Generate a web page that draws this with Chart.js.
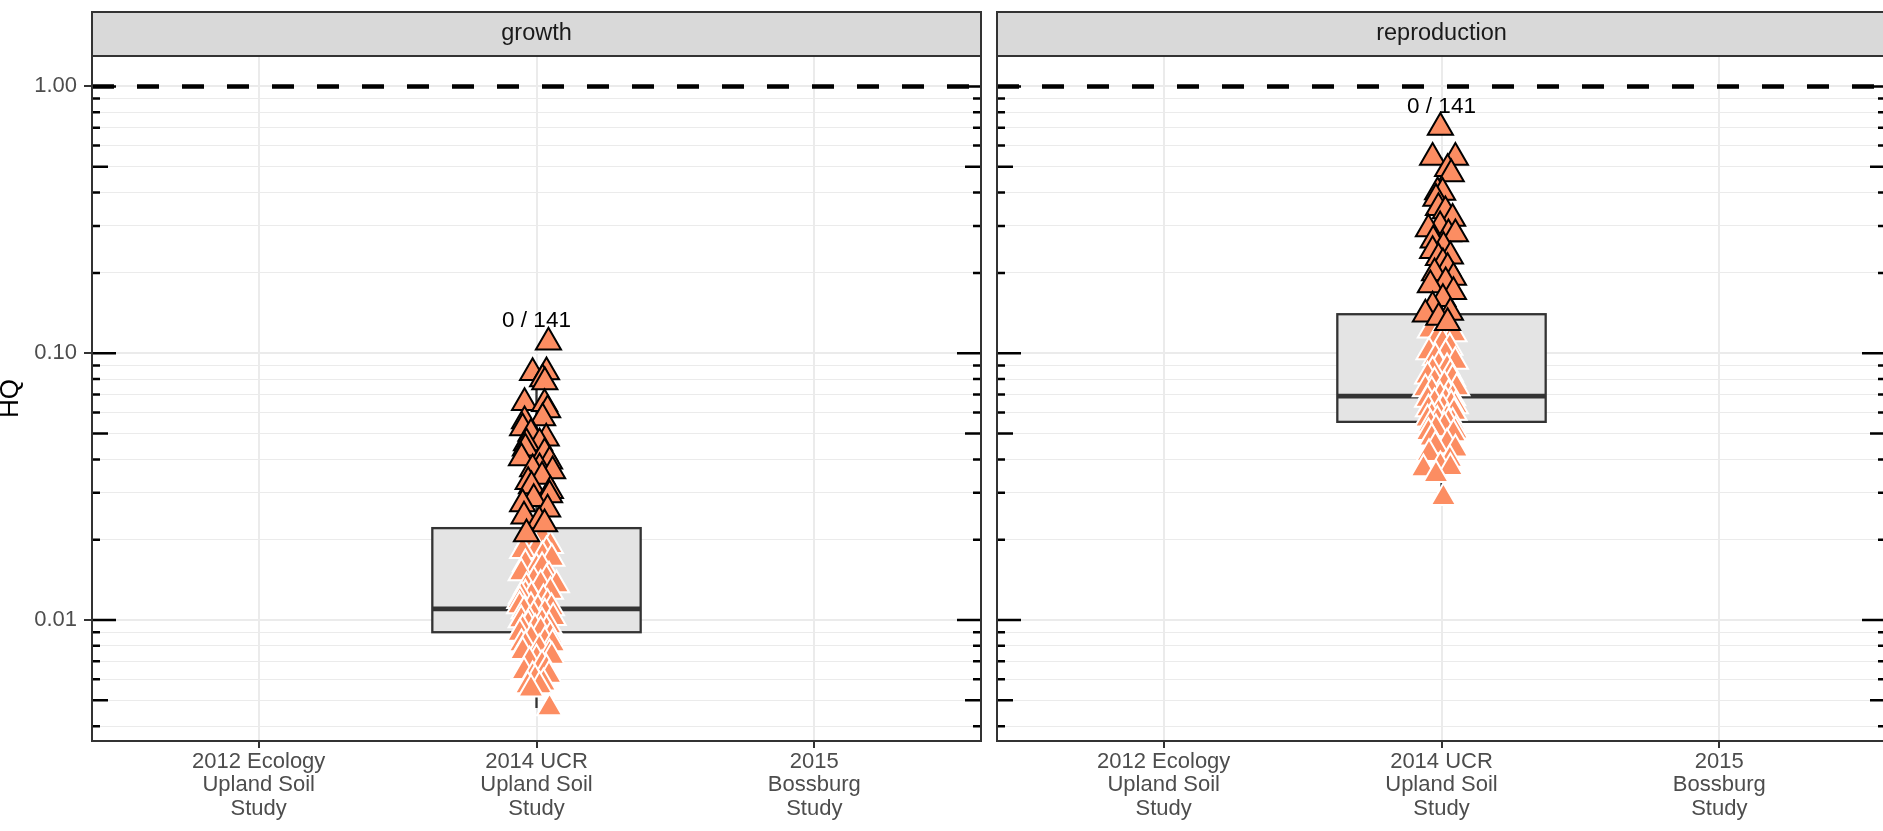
<!DOCTYPE html>
<html>
<head>
<meta charset="utf-8">
<title>HQ by study</title>
<script src="https://cdn.jsdelivr.net/npm/chart.js@4.4.0/dist/chart.umd.min.js"></script>
<style>
  html, body { margin: 0; padding: 0; background: #ffffff; overflow: hidden; }
  #wrap { position: relative; width: 1883px; height: 831px; overflow: hidden; }
  canvas { position: absolute; top: 0; }
  #growthChart { left: 0; }
  #reproChart { left: 990px; }
</style>
</head>
<body>
<div id="wrap">
  <canvas id="growthChart" width="990" height="831"></canvas>
  <canvas id="reproChart" width="900" height="831"></canvas>
</div>
<script>
// x categories (multi-line tick labels) and y axis breaks
const categories = [
  ["2012 Ecology", "Upland Soil", "Study"],
  ["2014 UCR", "Upland Soil", "Study"],
  ["2015", "Bossburg", "Study"],
];
const yMajorTicks = [0.01, 0.1, 1];
const yLogTicks = [
  0.004, 0.005, 0.006, 0.007, 0.008, 0.009,
  0.01, 0.02, 0.03, 0.04, 0.05, 0.06, 0.07, 0.08, 0.09,
  0.1, 0.2, 0.3, 0.4, 0.5, 0.6, 0.7, 0.8, 0.9,
  1,
];
const yMin = 0.00352;
const yMax = 1.3;
const hqThreshold = 1;

// growth panel: box stats [lower whisker, q1, median, q3, upper whisker]
const growthBoxStats = [0.00468, 0.0090, 0.0110, 0.0221, 0.0844];
const growthExceed = "0 / 141";
// points drawn with black outline (high end)
const growthUpperHQ = [
  0.110, 0.0844, 0.0851, 0.0801, 0.078, 0.0652, 0.0646, 0.0613, 0.0572, 0.0557,
  0.0524, 0.050, 0.048, 0.0461, 0.0461, 0.044, 0.0423, 0.0405, 0.0394, 0.0371,
  0.0368, 0.0362, 0.0345, 0.033, 0.0318, 0.0305, 0.0294, 0.0285, 0.0272, 0.026,
  0.0245, 0.0235, 0.0229, 0.0210,
];
const growthUpperJitter = [
  0.043, -0.014, 0.036, 0.022, 0.03, -0.043, 0.029, 0.040, 0.022, -0.043,
  -0.050, -0.02, 0.035, 0.011, -0.036, -0.04, 0.029, -0.054, 0.047, 0.011,
  -0.014, 0.058, 0.02, -0.03, -0.018, 0.05, 0.047, -0.01, -0.050, 0.04,
  -0.045, 0.01, 0.029, -0.036,
];
// points drawn with white outline
const growthLowerHQ = [
  0.0205, 0.0198, 0.0190, 0.01845, 0.0182, 0.01815, 0.01738, 0.0170, 0.0162, 0.01567,
  0.0158, 0.0150, 0.0146, 0.01425, 0.0140, 0.0136, 0.01353, 0.0133, 0.0128, 0.0125,
  0.01231, 0.01231, 0.0120, 0.0118, 0.0115, 0.01128, 0.0112, 0.01109, 0.0110, 0.0108,
  0.0106, 0.0104, 0.0102, 0.0100, 0.00991, 0.0098, 0.0096, 0.0095, 0.0093, 0.00925,
  0.00918, 0.0091, 0.0089, 0.0087, 0.0085, 0.0083, 0.00813, 0.00813, 0.0080, 0.0078,
  0.0076, 0.00746, 0.0073, 0.00714, 0.0070, 0.0068, 0.00655, 0.0064, 0.0062, 0.00617,
  0.0060, 0.0058, 0.00566, 0.00566, 0.0055, 0.00468,
];
const growthLowerJitter = [
  0.02, -0.03, 0.05, 0.000, -0.05, 0.036, 0.022, 0.055, -0.04, 0.000,
  0.02, -0.055, 0.045, 0.036, -0.01, 0.015, 0.072, -0.036, 0.05, -0.04,
  -0.018, -0.054, 0.025, -0.06, 0.04, -0.061, -0.02, 0.054, 0.005, -0.045,
  0.03, -0.01, 0.06, -0.055, -0.025, 0.02, -0.03, 0.045, -0.005, -0.050,
  0.036, 0.015, -0.06, 0.05, -0.02, 0.03, -0.054, 0.058, -0.04, 0.01,
  -0.05, 0.047, 0.055, 0.000, -0.025, 0.02, 0.036, -0.045, 0.045, -0.014,
  -0.005, 0.025, -0.032, 0.011, -0.02, 0.047,
];

// reproduction panel
const reproBoxStats = [0.0287, 0.0553, 0.0691, 0.140, 0.541];
const reproExceed = "0 / 141";
const reproUpperHQ = [
  0.701, 0.541, 0.541, 0.491, 0.470, 0.402, 0.400, 0.380, 0.351, 0.341,
  0.320, 0.300, 0.292, 0.280, 0.280, 0.265, 0.251, 0.242, 0.231, 0.228,
  0.218, 0.209, 0.200, 0.192, 0.185, 0.180, 0.170, 0.160, 0.150, 0.142,
  0.140, 0.136, 0.130,
];
const reproUpperJitter = [
  -0.004, -0.032, 0.050, 0.022, 0.035, -0.014, 0.004, -0.02, -0.011, 0.014,
  0.04, -0.005, -0.047, 0.025, 0.050, -0.03, 0.007, -0.032, 0.032, -0.011,
  0.005, 0.022, -0.025, 0.043, 0.015, -0.040, 0.043, 0.005, -0.032, 0.032,
  -0.058, -0.01, 0.022,
];
const reproLowerHQ = [
  0.1265, 0.122, 0.118, 0.114, 0.1094, 0.105, 0.101, 0.099, 0.0962, 0.093,
  0.090, 0.088, 0.0858, 0.0836, 0.082, 0.080, 0.078, 0.076, 0.074, 0.0734,
  0.072, 0.070, 0.069, 0.068, 0.067, 0.066, 0.065, 0.0634, 0.064, 0.062,
  0.0618, 0.060, 0.0598, 0.058, 0.057, 0.0566, 0.056, 0.055, 0.0549, 0.054,
  0.053, 0.052, 0.051, 0.0503, 0.0498, 0.048, 0.046, 0.0449, 0.0437, 0.042,
  0.040, 0.0378, 0.0372, 0.0368, 0.035, 0.0287,
];
const reproLowerJitter = [
  0.014, -0.04, 0.045, -0.015, 0.004, 0.03, -0.045, 0.015, -0.022, 0.05,
  -0.01, 0.02, -0.032, 0.032, -0.05, 0.04, -0.025, 0.01, 0.055, -0.058,
  -0.035, 0.025, -0.005, 0.04, -0.05, 0.015, -0.025, 0.050, 0.035, 0.005,
  -0.047, 0.045, -0.011, -0.035, 0.02, -0.050, -0.015, 0.04, 0.025, -0.04,
  0.01, -0.02, 0.05, -0.047, 0.043, -0.035, 0.02, -0.022, 0.050, -0.045,
  0.03, -0.004, 0.032, -0.065, -0.02, 0.007,
];

Chart.defaults.font.family = '"Liberation Sans", Arial, Helvetica, sans-serif';

const xMin = 0.4;
const xMax = 3.6;
const isMajor = (v) => yMajorTicks.some((m) => Math.abs(m - v) / m < 1e-6);

// draws boxplot, log ticks, count label, panel border and facet strip
const panelDecor = {
  id: "panelDecor",
  beforeDatasetsDraw(chart, args, opts) {
    const { ctx, scales: { x, y } } = chart;
    const [lo, q1, med, q3, hi] = opts.box;
    const cx = x.getPixelForValue(opts.at);
    const left = x.getPixelForValue(opts.at - 0.375);
    const right = x.getPixelForValue(opts.at + 0.375);
    ctx.save();
    ctx.strokeStyle = "#333333";
    ctx.lineWidth = 2.3;
    ctx.beginPath();
    ctx.moveTo(cx, y.getPixelForValue(q3));
    ctx.lineTo(cx, y.getPixelForValue(hi));
    ctx.moveTo(cx, y.getPixelForValue(q1));
    ctx.lineTo(cx, y.getPixelForValue(lo));
    ctx.stroke();
    const top = y.getPixelForValue(q3);
    const bottom = y.getPixelForValue(q1);
    ctx.fillStyle = "#E4E4E4";
    ctx.fillRect(left, top, right - left, bottom - top);
    ctx.strokeRect(left, top, right - left, bottom - top);
    ctx.lineWidth = 4.7;
    ctx.beginPath();
    ctx.moveTo(left, y.getPixelForValue(med));
    ctx.lineTo(right, y.getPixelForValue(med));
    ctx.stroke();
    ctx.restore();
  },
  afterDatasetsDraw(chart, args, opts) {
    const { ctx, chartArea: a, scales: { x, y } } = chart;
    ctx.save();
    // annotation_logticks style, both sides, pointing inward
    ctx.strokeStyle = "#000000";
    ctx.lineWidth = 2.5;
    ctx.beginPath();
    yLogTicks.forEach((v) => {
      const lead = Math.round(v / Math.pow(10, Math.floor(Math.log10(v) + 1e-9)));
      const len = isMajor(v) ? 24 : lead === 5 ? 16 : 8;
      const py = y.getPixelForValue(v);
      ctx.moveTo(a.left, py);
      ctx.lineTo(a.left + len, py);
      ctx.moveTo(a.right, py);
      ctx.lineTo(a.right - len, py);
    });
    ctx.stroke();
    // exceedance count above the points
    ctx.fillStyle = "#000000";
    ctx.font = '22.5px "Liberation Sans", Arial, sans-serif';
    ctx.textAlign = "center";
    ctx.textBaseline = "middle";
    ctx.fillText(opts.label, x.getPixelForValue(opts.at), y.getPixelForValue(opts.labelAt));
    ctx.restore();
  },
  afterDraw(chart, args, opts) {
    const { ctx, chartArea: a } = chart;
    ctx.save();
    ctx.strokeStyle = "#333333";
    ctx.lineWidth = 2;
    ctx.strokeRect(a.left, a.top, a.right - a.left, a.bottom - a.top);
    const stripH = 44;
    ctx.fillStyle = "#D9D9D9";
    ctx.fillRect(a.left, a.top - stripH, a.right - a.left, stripH);
    ctx.strokeRect(a.left, a.top - stripH, a.right - a.left, stripH);
    ctx.fillStyle = "#1A1A1A";
    ctx.font = '23.5px "Liberation Sans", Arial, sans-serif';
    ctx.textAlign = "center";
    ctx.textBaseline = "middle";
    ctx.fillText(opts.strip, (a.left + a.right) / 2, a.top - stripH / 2);
    ctx.restore();
  },
};

function buildChart(canvasId, panel) {
  const at = categories.findIndex((c) => c[0] === "2014 UCR") + 1;
  const pts = (vals, jit) => vals.map((v, i) => ({ x: at + jit[i], y: v }));
  const tri = {
    pointStyle: "triangle",
    pointRadius: 14.5,
    pointBackgroundColor: "#FC8D62",
    pointBorderWidth: 2,
  };

  return new Chart(document.getElementById(canvasId), {
    type: "scatter",
    plugins: [panelDecor],
    data: {
      datasets: [
        { label: "high", data: pts(panel.upperHQ, panel.upperJitter), ...tri, pointBorderColor: "#000000", order: 0 },
        { label: "low", data: pts(panel.lowerHQ, panel.lowerJitter), ...tri, pointBorderColor: "#FFFFFF", order: 1 },
        {
          type: "line",
          label: "HQ = 1",
          data: [{ x: xMin, y: hqThreshold }, { x: xMax, y: hqThreshold }],
          showLine: true,
          borderColor: "#000000",
          borderWidth: 4.5,
          borderDash: [22, 23],
          borderCapStyle: "butt",
          pointRadius: 0,
          order: 2,
        },
      ],
    },
    options: {
      responsive: false,
      animation: false,
      events: [],
      layout: {
        autoPadding: false,
        padding: { top: 56, right: panel.padRight, left: 0, bottom: 0 },
      },
      plugins: {
        legend: { display: false },
        tooltip: { enabled: false },
        panelDecor: {
          box: panel.box,
          at: at,
          strip: panel.strip,
          label: panel.label,
          labelAt: Math.max(...panel.upperHQ) * 1.2,
        },
      },
      scales: {
        x: {
          type: "linear",
          min: xMin,
          max: xMax,
          afterBuildTicks: (s) => { s.ticks = categories.map((c, i) => ({ value: i + 1 })); },
          afterFit: (s) => { s.height = 90; },
          border: { display: false },
          grid: { color: "#EBEBEB", lineWidth: 2, tickLength: 7, tickColor: "#333333", tickWidth: 2 },
          ticks: {
            autoSkip: false,
            maxRotation: 0,
            padding: 2,
            color: "#4D4D4D",
            font: { size: 22, lineHeight: 1.07 },
            callback: (v, i) => categories[i],
          },
        },
        y: {
          type: "logarithmic",
          min: yMin,
          max: yMax,
          afterBuildTicks: (s) => { s.ticks = yLogTicks.map((v) => ({ value: v })); },
          afterFit: (s) => { s.width = panel.axisWidth; },
          border: { display: false },
          grid: {
            color: "#EBEBEB",
            lineWidth: (c) => (c.tick && isMajor(c.tick.value) ? 2 : 1),
            drawTicks: panel.showAxis,
            tickLength: 8,
            tickWidth: 2,
            tickColor: (c) => (c.tick && isMajor(c.tick.value) ? "#333333" : "rgba(0,0,0,0)"),
          },
          ticks: {
            display: panel.showAxis,
            autoSkip: false,
            padding: 7,
            color: "#4D4D4D",
            font: { size: 22 },
            callback: (v) => (isMajor(v) ? v.toFixed(2) : ""),
          },
          title: {
            display: panel.showAxis,
            text: "HQ",
            color: "#000000",
            font: { size: 26, lineHeight: 0.8 },
            padding: 0,
          },
        },
      },
    },
  });
}

buildChart("growthChart", {
  strip: "growth",
  label: growthExceed,
  box: growthBoxStats,
  upperHQ: growthUpperHQ,
  upperJitter: growthUpperJitter,
  lowerHQ: growthLowerHQ,
  lowerJitter: growthLowerJitter,
  showAxis: true,
  axisWidth: 92,
  padRight: 9,
});

buildChart("reproChart", {
  strip: "reproduction",
  label: reproExceed,
  box: reproBoxStats,
  upperHQ: reproUpperHQ,
  upperJitter: reproUpperJitter,
  lowerHQ: reproLowerHQ,
  lowerJitter: reproLowerJitter,
  showAxis: false,
  axisWidth: 7,
  padRight: 4,
});
</script>
</body>
</html>
